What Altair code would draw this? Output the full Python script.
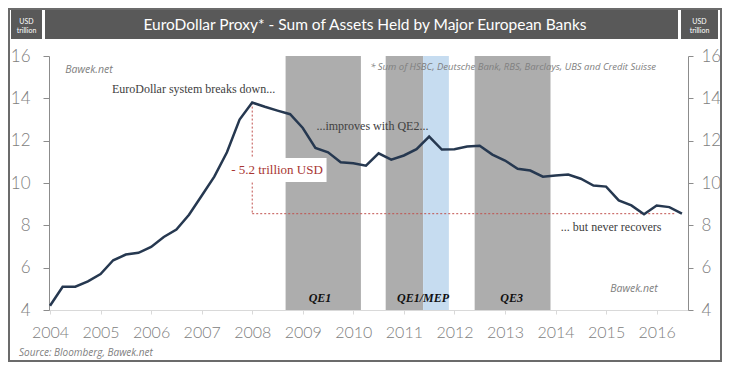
import altair as alt
import pandas as pd

# ---------------- data ----------------
quarters = [2004 + i / 4 for i in range(51)]
assets = [4.2, 5.1, 5.1, 5.35, 5.7, 6.35, 6.62, 6.7, 6.98, 7.45, 7.8, 8.5, 9.4, 10.3, 11.45, 13.0,
          13.8, 13.6, 13.42, 13.25, 12.6, 11.66, 11.45, 10.98, 10.93, 10.82, 11.4, 11.1, 11.3, 11.6,
          12.19, 11.58, 11.6, 11.72, 11.76, 11.34, 11.06, 10.67, 10.59, 10.3, 10.35, 10.4, 10.2, 9.88,
          9.83, 9.18, 8.94, 8.52, 8.94, 8.86, 8.55]

shade_start = [2008.66, 2010.64, 2011.38, 2012.40]
shade_end = [2010.15, 2011.38, 2011.89, 2013.90]
shade_kind = ["QE", "QE", "Twist", "QE"]

qe_labels = ["QE1", "QE1/MEP", "QE3"]
qe_label_x = [2009.34, 2011.38, 2013.13]

year_ticks = list(range(2004, 2017))
value_ticks = [4, 6, 8, 10, 12, 14, 16]

peak_year, peak_value = 2008.0, 13.8
trough_value = 8.55
drop_end_year = 2016.35

# ---------------- layout ----------------
W, H = 639, 254
xscale = alt.Scale(domain=[2003.98, 2016.62], nice=False, zero=False)
yscale = alt.Scale(domain=[4, 16], nice=False, zero=False)

GRAY_TXT = "#808080"
BAR = "#595959"

xaxis = alt.Axis(values=year_ticks, format="d", title=None, grid=False,
                 domainColor="#d9d9d9", tickColor="#d9d9d9", tickSize=4,
                 labelFont="Lato", labelFontSize=16, labelFontWeight=300, labelColor=GRAY_TXT,
                 labelPadding=10, labelFlush=False, labelOverlap=False)


def X(field):
    return alt.X(field, type="quantitative", scale=xscale, axis=xaxis)


def Y(field, axis=None):
    return alt.Y(field, type="quantitative", scale=yscale, axis=axis)


one = pd.DataFrame({"k": [0]})

# frame and title bar (decoration, pixel positions)
frame = alt.Chart(one).mark_rect(filled=False, stroke="#6b6b6b", strokeWidth=2).encode(
    x=alt.value(-40), x2=alt.value(672), y=alt.value(-47), y2=alt.value(305))

bar_left = alt.Chart(one).mark_rect(fill=BAR).encode(
    x=alt.value(-38), x2=alt.value(-7), y=alt.value(-46), y2=alt.value(-17))
bar_mid = alt.Chart(one).mark_rect(fill=BAR).encode(
    x=alt.value(-4), x2=alt.value(629), y=alt.value(-46), y2=alt.value(-17))
bar_right = alt.Chart(one).mark_rect(fill=BAR).encode(
    x=alt.value(632), x2=alt.value(669), y=alt.value(-46), y2=alt.value(-17))

title_txt = alt.Chart(one).mark_text(font="Lato", fontSize=15.5, color="white",
                                     baseline="middle").encode(
    x=alt.value(316), y=alt.value(-31.5),
    text=alt.value("EuroDollar Proxy* - Sum of Assets Held by Major European Banks"))
unit_left = alt.Chart(one).mark_text(font="Lato", fontSize=7, color="white", baseline="middle",
                                     lineHeight=9).encode(
    x=alt.value(-22.5), y=alt.value(-34), text=alt.value(["USD", "trillion"]))
unit_right = alt.Chart(one).mark_text(font="Lato", fontSize=7, color="white", baseline="middle",
                                      lineHeight=9).encode(
    x=alt.value(650.5), y=alt.value(-34), text=alt.value(["USD", "trillion"]))

# shaded QE periods
shade_df = pd.DataFrame({"start": shade_start, "end": shade_end, "kind": shade_kind})
shades = alt.Chart(shade_df).mark_rect().encode(
    x=X("start"), x2="end", y=alt.value(0), y2=alt.value(H),
    color=alt.Color("kind:N", scale=alt.Scale(domain=["QE", "Twist"], range=["#adadad", "#c6dcf0"]),
                    legend=None))

qe_df = pd.DataFrame({"x": qe_label_x, "y": [4.55] * 3, "t": qe_labels})
qe_text = alt.Chart(qe_df).mark_text(font="Liberation Serif", fontSize=12, fontWeight="bold",
                                     fontStyle="italic", color="#111111", baseline="middle").encode(
    x=X("x"), y=Y("y"), text="t")

# red drop markers
vdrop = alt.Chart(pd.DataFrame({"x": [peak_year], "y": [peak_value], "y2": [trough_value]})).mark_rule(
    color="#c0504d", strokeDash=[2, 2], strokeWidth=1).encode(x=X("x"), y=Y("y"), y2="y2")
hdrop = alt.Chart(pd.DataFrame({"x": [peak_year], "x2": [drop_end_year], "y": [trough_value]})).mark_rule(
    color="#c0504d", strokeDash=[2, 2], strokeWidth=1).encode(x=X("x"), x2="x2", y=Y("y"))

box = alt.Chart(pd.DataFrame({"x": [2007.62], "x2": [2009.47], "y": [11.18], "y2": [10.05]})).mark_rect(
    fill="white").encode(x=X("x"), x2="x2", y=Y("y"), y2="y2")
drop_txt = alt.Chart(pd.DataFrame({"x": [2008.49], "y": [10.6], "t": ["- 5.2 trillion USD"]})).mark_text(
    font="Liberation Serif", fontSize=13, color="#a83532", baseline="middle").encode(
    x=X("x"), y=Y("y"), text="t")

# main line
line_df = pd.DataFrame({"year": quarters, "assets": assets})
left_axis = alt.Axis(values=value_ticks, orient="left", title=None, grid=False,
                     domainColor="#8c8c8c", tickColor="#8c8c8c", tickSize=6,
                     labelFont="Lato", labelFontSize=17, labelFontWeight=300, labelColor=GRAY_TXT,
                     labelPadding=13)
right_axis = alt.Axis(values=value_ticks, orient="right", title=None, grid=False,
                      domainColor="#8c8c8c", tickColor="#8c8c8c", tickSize=5,
                      labelFont="Lato", labelFontSize=17, labelFontWeight=300, labelColor=GRAY_TXT,
                      labelPadding=8)

line = alt.Chart(line_df).mark_line(color="#263850", strokeWidth=2.5).encode(
    x=X("year"), y=Y("assets", left_axis))
right_ghost = alt.Chart(line_df).mark_line(opacity=0).encode(
    x=X("year"), y=Y("assets", right_axis))


def note(x, y, t, align="center", **kw):
    return alt.Chart(pd.DataFrame({"x": [x], "y": [y], "t": [t]})).mark_text(
        align=align, baseline="middle", **kw).encode(x=X("x"), y=Y("y"), text="t")


serif = dict(font="Liberation Serif", fontSize=12, color="#404040")
ital = dict(font="Open Sans", fontStyle="italic", color=GRAY_TXT)

notes = [
    note(2004.30, 15.34, "Bawek.net", align="left", fontSize=10.5, **ital),
    note(2006.84, 14.43, "EuroDollar system breaks down...", **serif),
    note(2009.27, 12.69, "...improves with QE2...", align="left", **serif),
    note(2013.16, 15.47, "* Sum of HSBC, Deutsche Bank, RBS, Barclays, UBS and Credit Suisse",
         fontSize=9.5, **ital),
    note(2015.10, 7.91, "... but never recovers", **serif),
    note(2015.55, 4.98, "Bawek.net", fontSize=10.5, **ital),
]

source = alt.Chart(one).mark_text(align="left", baseline="middle", font="Open Sans", fontStyle="italic",
                                  fontSize=10, color=GRAY_TXT).encode(
    x=alt.value(-30), y=alt.value(297), text=alt.value("Source: Bloomberg, Bawek.net"))

chart = alt.layer(
    frame, bar_left, bar_mid, bar_right, title_txt, unit_left, unit_right,
    shades, qe_text, vdrop, hdrop, box, drop_txt, line, right_ghost, *notes, source
).resolve_axis(y="independent").properties(
    width=W, height=H,
    autosize=alt.AutoSizeParams(type="none"),
    padding={"left": 41, "top": 48, "right": 34, "bottom": 52},
    background="white",
).configure_view(stroke=None)

chart.save("out.html", embed_options={"renderer": "svg", "actions": False})
